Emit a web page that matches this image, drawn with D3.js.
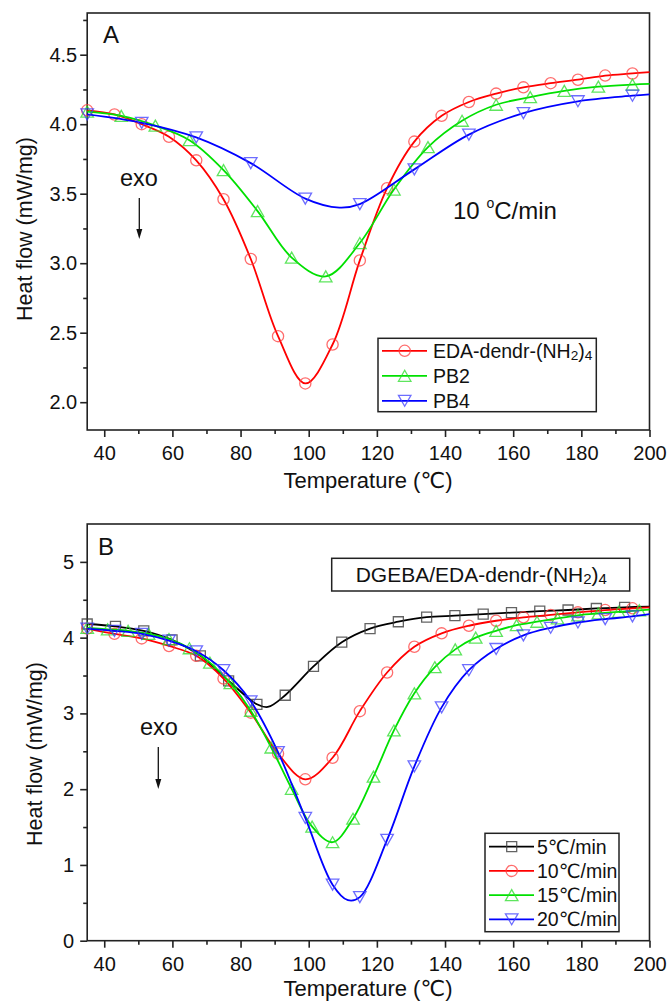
<!DOCTYPE html>
<html><head><meta charset="utf-8">
<script src="https://cdn.jsdelivr.net/npm/d3@7"></script>
<style>
body{margin:0;background:#fff}
svg{display:block}
text{font-family:"Liberation Sans",Arial,"DejaVu Sans",sans-serif;fill:#111}
</style>
</head><body><svg id="c" width="668" height="1004"></svg>
<script>
// ---------------- DATA ----------------
const xMajorTicks = [40,60,80,100,120,140,160,180,200];
const xMinorTicks = [50,70,90,110,130,150,170,190];
const yMajorTicksA = [2.0,2.5,3.0,3.5,4.0,4.5];
const yMinorTicksA = [2.25,2.75,3.25,3.75,4.25,4.75];
const yMajorTicksB = [0,1,2,3,4,5];
const yMinorTicksB = [0.5,1.5,2.5,3.5,4.5];

// Panel A (10 °C/min)
const tempA_eda   = [35,43,51,59,67,75,83,91,99,107,115,123,131,139,147,155,163,171,179,187,195];
const flowA_eda   = [4.10,4.07,4.00,3.91,3.74,3.46,3.03,2.475,2.135,2.415,3.02,3.54,3.875,4.06,4.16,4.22,4.265,4.295,4.32,4.35,4.365];
const tailA_eda   = [[200,4.375]];
const tempA_pb2   = [35,45,55,65,75,85,95,105,115,125,135,145,155,165,175,185,195];
const flowA_pb2   = [4.09,4.06,3.99,3.885,3.67,3.375,3.04,2.905,3.145,3.53,3.835,4.025,4.14,4.195,4.24,4.27,4.285];
const tailA_pb2   = [[200,4.29]];
const tempA_pb4   = [35,51,67,83,99,115,131,147,163,179,195];
const flowA_pb4   = [4.07,4.01,3.905,3.72,3.465,3.425,3.675,3.925,4.08,4.165,4.205];
const tailA_pb4   = [[109,3.40],[200,4.215]];

// Panel B (DGEBA/EDA-dendr-(NH2)4 at different heating rates)
const tempB_5  = [35,43.3,51.6,59.9,68.2,76.5,84.8,93.1,101.4,109.7,118,126.3,134.6,142.9,151.2,159.5,167.8,176.1,184.4,192.7];
const flowB_5  = [4.18,4.15,4.09,3.97,3.76,3.43,3.12,3.24,3.62,3.94,4.12,4.21,4.27,4.29,4.31,4.33,4.35,4.365,4.385,4.40];
const tailB_5  = [[88,3.085],[200,4.41]];
const tempB_10 = [35,43,51,59,67,75,83,91,99,107,115,123,131,139,147,155,163,171,179,187,195];
const flowB_10 = [4.12,4.05,3.99,3.89,3.76,3.46,3.01,2.47,2.13,2.415,3.03,3.54,3.88,4.057,4.157,4.223,4.268,4.30,4.334,4.364,4.387];
const tailB_10 = [[200,4.40]];
const tempB_15 = [35,41,47,53,59,65,71,77,83,89,95,101,107,113,119,125,131,137,143,149,155,161,167,173,179,185,191,197];
const flowB_15 = [4.13,4.11,4.09,4.05,3.98,3.86,3.67,3.40,3.035,2.55,2.005,1.505,1.30,1.61,2.165,2.775,3.265,3.61,3.845,4.0,4.09,4.165,4.21,4.255,4.295,4.32,4.34,4.36];
const tailB_15 = [[200,4.37]];
const tempB_20 = [35,43,51,59,67,75,83,91,99,107,115,123,131,139,147,155,163,171,179,187,195];
const flowB_20 = [4.12,4.09,4.05,3.96,3.82,3.57,3.16,2.49,1.62,0.74,0.575,1.33,2.30,3.08,3.57,3.85,4.03,4.13,4.20,4.245,4.28];
const tailB_20 = [[111.5,0.535],[200,4.31]];

// ---------------- DRAW ----------------
const svg = d3.select('#c');
const FONT = '"Liberation Sans",Arial,"DejaVu Sans",sans-serif';
const x = d3.scaleLinear().domain([35,200]).range([87.2,649.5]);

function markerPath(type){
  if(type==='up'){const s=12.5,h=11;return `M0,${-h/2}L${s/2},${h/2}L${-s/2},${h/2}Z`;}
  if(type==='down'){const s=12.5,h=11;return `M0,${h/2}L${s/2},${-h/2}L${-s/2},${-h/2}Z`;}
  if(type==='square'){const a=5;return `M${-a},${-a}H${a}V${a}H${-a}Z`;}
  return d3.symbol(d3.symbolCircle, Math.PI*5.6*5.6)();
}

function panel(opt){
  const y = d3.scaleLinear().domain(opt.yDomain).range([opt.bottom, opt.top]);
  const g = svg.append('g');
  const [x0,x1] = x.range();

  const xa = g.append('g').attr('transform',`translate(0,${opt.bottom})`)
    .call(d3.axisBottom(x).tickValues(xMajorTicks).tickSize(7).tickPadding(9).tickFormat(d3.format('d')));
  const xm = g.append('g').attr('transform',`translate(0,${opt.bottom})`)
    .call(d3.axisBottom(x).tickValues(xMinorTicks).tickSize(4).tickFormat(''));
  const ya = g.append('g').attr('transform',`translate(${x0},0)`)
    .call(d3.axisLeft(y).tickValues(opt.yMajor).tickSize(7).tickPadding(opt.yPad).tickFormat(d3.format(opt.yFmt)));
  const ym = g.append('g').attr('transform',`translate(${x0},0)`)
    .call(d3.axisLeft(y).tickValues(opt.yMinor).tickSize(4).tickFormat(''));
  [xa,xm,ya,ym].forEach(a=>{
    a.select('.domain').remove();
    a.selectAll('line').attr('stroke','#222').attr('stroke-width',1.6);
    a.selectAll('text').attr('font-size',20).attr('font-family',FONT).attr('fill','#111');
  });

  g.append('rect').attr('x',x0).attr('y',opt.top).attr('width',x1-x0).attr('height',opt.bottom-opt.top)
    .attr('fill','none').attr('stroke','#222').attr('stroke-width',1.6);

  const line = d3.line().x(d=>x(d[0])).y(d=>y(d[1])).curve(d3.curveCatmullRom.alpha(0.5));
  opt.series.forEach(s=>{
    const pts = s.t.map((t,i)=>[t,s.v[i]]);
    const all = pts.concat(s.extra).sort((a,b)=>a[0]-b[0]);
    g.append('path').datum(all).attr('d',line).attr('fill','none')
      .attr('stroke',s.color).attr('stroke-width',1.8);
    g.append('g').selectAll('path').data(pts).join('path')
      .attr('transform',d=>`translate(${x(d[0])},${y(d[1])})`)
      .attr('d',markerPath(s.marker)).attr('fill','none')
      .attr('stroke',s.mcolor).attr('stroke-width',1.3);
  });

  g.append('text').attr('x',368).attr('y',opt.xTitleY).attr('text-anchor','middle')
    .attr('font-size',22).text('Temperature (℃)');
  g.append('text').attr('transform',`translate(${opt.yTitleX},${opt.yTitleCY}) rotate(-90)`)
    .attr('text-anchor','middle').attr('font-size',21.5).text('Heat flow (mW/mg)');

  g.append('text').attr('x',opt.letterX).attr('y',opt.letterY).attr('font-size',24).text(opt.letter);

  g.append('text').attr('x',opt.exoX).attr('y',opt.exoY).attr('font-size',23.5).text('exo');
  g.append('line').attr('x1',opt.arrowX).attr('x2',opt.arrowX).attr('y1',opt.arrowY0).attr('y2',opt.arrowY1-8)
    .attr('stroke','#111').attr('stroke-width',1.3);
  g.append('path').attr('d',`M${opt.arrowX-3},${opt.arrowY1-10}L${opt.arrowX+3},${opt.arrowY1-10}L${opt.arrowX},${opt.arrowY1}Z`)
    .attr('fill','#111');

  const L = opt.legend;
  g.append('rect').attr('x',L.x).attr('y',L.y).attr('width',L.w).attr('height',L.h)
    .attr('fill','#fff').attr('stroke','#222').attr('stroke-width',1.5);
  opt.series.forEach((s,i)=>{
    const ry = L.y + L.first + i*L.step;
    g.append('line').attr('x1',L.x+4).attr('x2',L.x+49).attr('y1',ry).attr('y2',ry)
      .attr('stroke',s.color).attr('stroke-width',1.8);
    g.append('path').attr('transform',`translate(${L.x+26.7},${ry})`).attr('d',markerPath(s.marker))
      .attr('fill','none').attr('stroke',s.mcolor).attr('stroke-width',1.3);
    const t = g.append('text').attr('x',L.x+L.tx).attr('y',ry+7).attr('font-size',L.fs);
    s.label.forEach(p=>{
      const ts = t.append('tspan').text(p.t);
      if(p.sub){ts.attr('font-size',L.fs*0.7).attr('dy',2);}
      else if(p.after){ts.attr('dy',-2);}
    });
  });
  return {g,y};
}

const cRed='#ff0000', cGreen='#00e000', cBlue='#0000ff', cBlack='#000000';
const mRed='rgba(255,60,60,0.75)', mGreen='rgba(40,220,40,0.75)', mBlue='rgba(60,60,255,0.75)', mBlack='rgba(60,60,60,0.8)';

const labEDA = [{t:'EDA-dendr-(NH'},{t:'2',sub:true},{t:')',after:true},{t:'4',sub:true}];

const A = panel({
  yDomain:[1.8,4.8], top:13, bottom:430, yMajor:yMajorTicksA, yMinor:yMinorTicksA, yFmt:'.1f', yPad:3,
  xTitleY:488, yTitleX:31.5, yTitleCY:229, letter:'A', letterX:103, letterY:43,
  exoX:120, exoY:186, arrowX:139.3, arrowY0:198, arrowY1:239,
  legend:{x:378,y:338.3,w:218.3,h:73.4,first:12.5,step:25,tx:55,fs:19.5},
  series:[
    {t:tempA_eda,v:flowA_eda,extra:tailA_eda,color:cRed,mcolor:mRed,marker:'circle',label:labEDA},
    {t:tempA_pb2,v:flowA_pb2,extra:tailA_pb2,color:cGreen,mcolor:mGreen,marker:'up',label:[{t:'PB2'}]},
    {t:tempA_pb4,v:flowA_pb4,extra:tailA_pb4,color:cBlue,mcolor:mBlue,marker:'down',label:[{t:'PB4'}]}
  ]
});
const ann = A.g.append('text').attr('x',453).attr('y',219).attr('font-size',24);
ann.append('tspan').text('10 ');
ann.append('tspan').text('o').attr('font-size',14).attr('dy',-11);
ann.append('tspan').text('C/min').attr('dy',11);

const B = panel({
  yDomain:[0,5.5], top:524, bottom:940.7, yMajor:yMajorTicksB, yMinor:yMinorTicksB, yFmt:'d', yPad:6,
  xTitleY:996, yTitleX:41.5, yTitleCY:754, letter:'B', letterX:98, letterY:555,
  exoX:140, exoY:735, arrowX:158.3, arrowY0:747, arrowY1:789,
  legend:{x:485,y:833.3,w:134,h:98.4,first:13.4,step:24.2,tx:52,fs:19.5},
  series:[
    {t:tempB_5,v:flowB_5,extra:tailB_5,color:cBlack,mcolor:mBlack,marker:'square',label:[{t:'5℃/min'}]},
    {t:tempB_10,v:flowB_10,extra:tailB_10,color:cRed,mcolor:mRed,marker:'circle',label:[{t:'10℃/min'}]},
    {t:tempB_15,v:flowB_15,extra:tailB_15,color:cGreen,mcolor:mGreen,marker:'up',label:[{t:'15℃/min'}]},
    {t:tempB_20,v:flowB_20,extra:tailB_20,color:cBlue,mcolor:mBlue,marker:'down',label:[{t:'20℃/min'}]}
  ]
});
B.g.append('rect').attr('x',331.7).attr('y',558.3).attr('width',298).attr('height',32.7)
  .attr('fill','#fff').attr('stroke','#222').attr('stroke-width',1.5);
const tb = B.g.append('text').attr('x',355.7).attr('y',581.7).attr('font-size',21);
tb.append('tspan').text('DGEBA/EDA-dendr-(NH');
tb.append('tspan').text('2').attr('font-size',15).attr('dy',2);
tb.append('tspan').text(')').attr('dy',-2);
tb.append('tspan').text('4').attr('font-size',15).attr('dy',2);
</script></body></html>
